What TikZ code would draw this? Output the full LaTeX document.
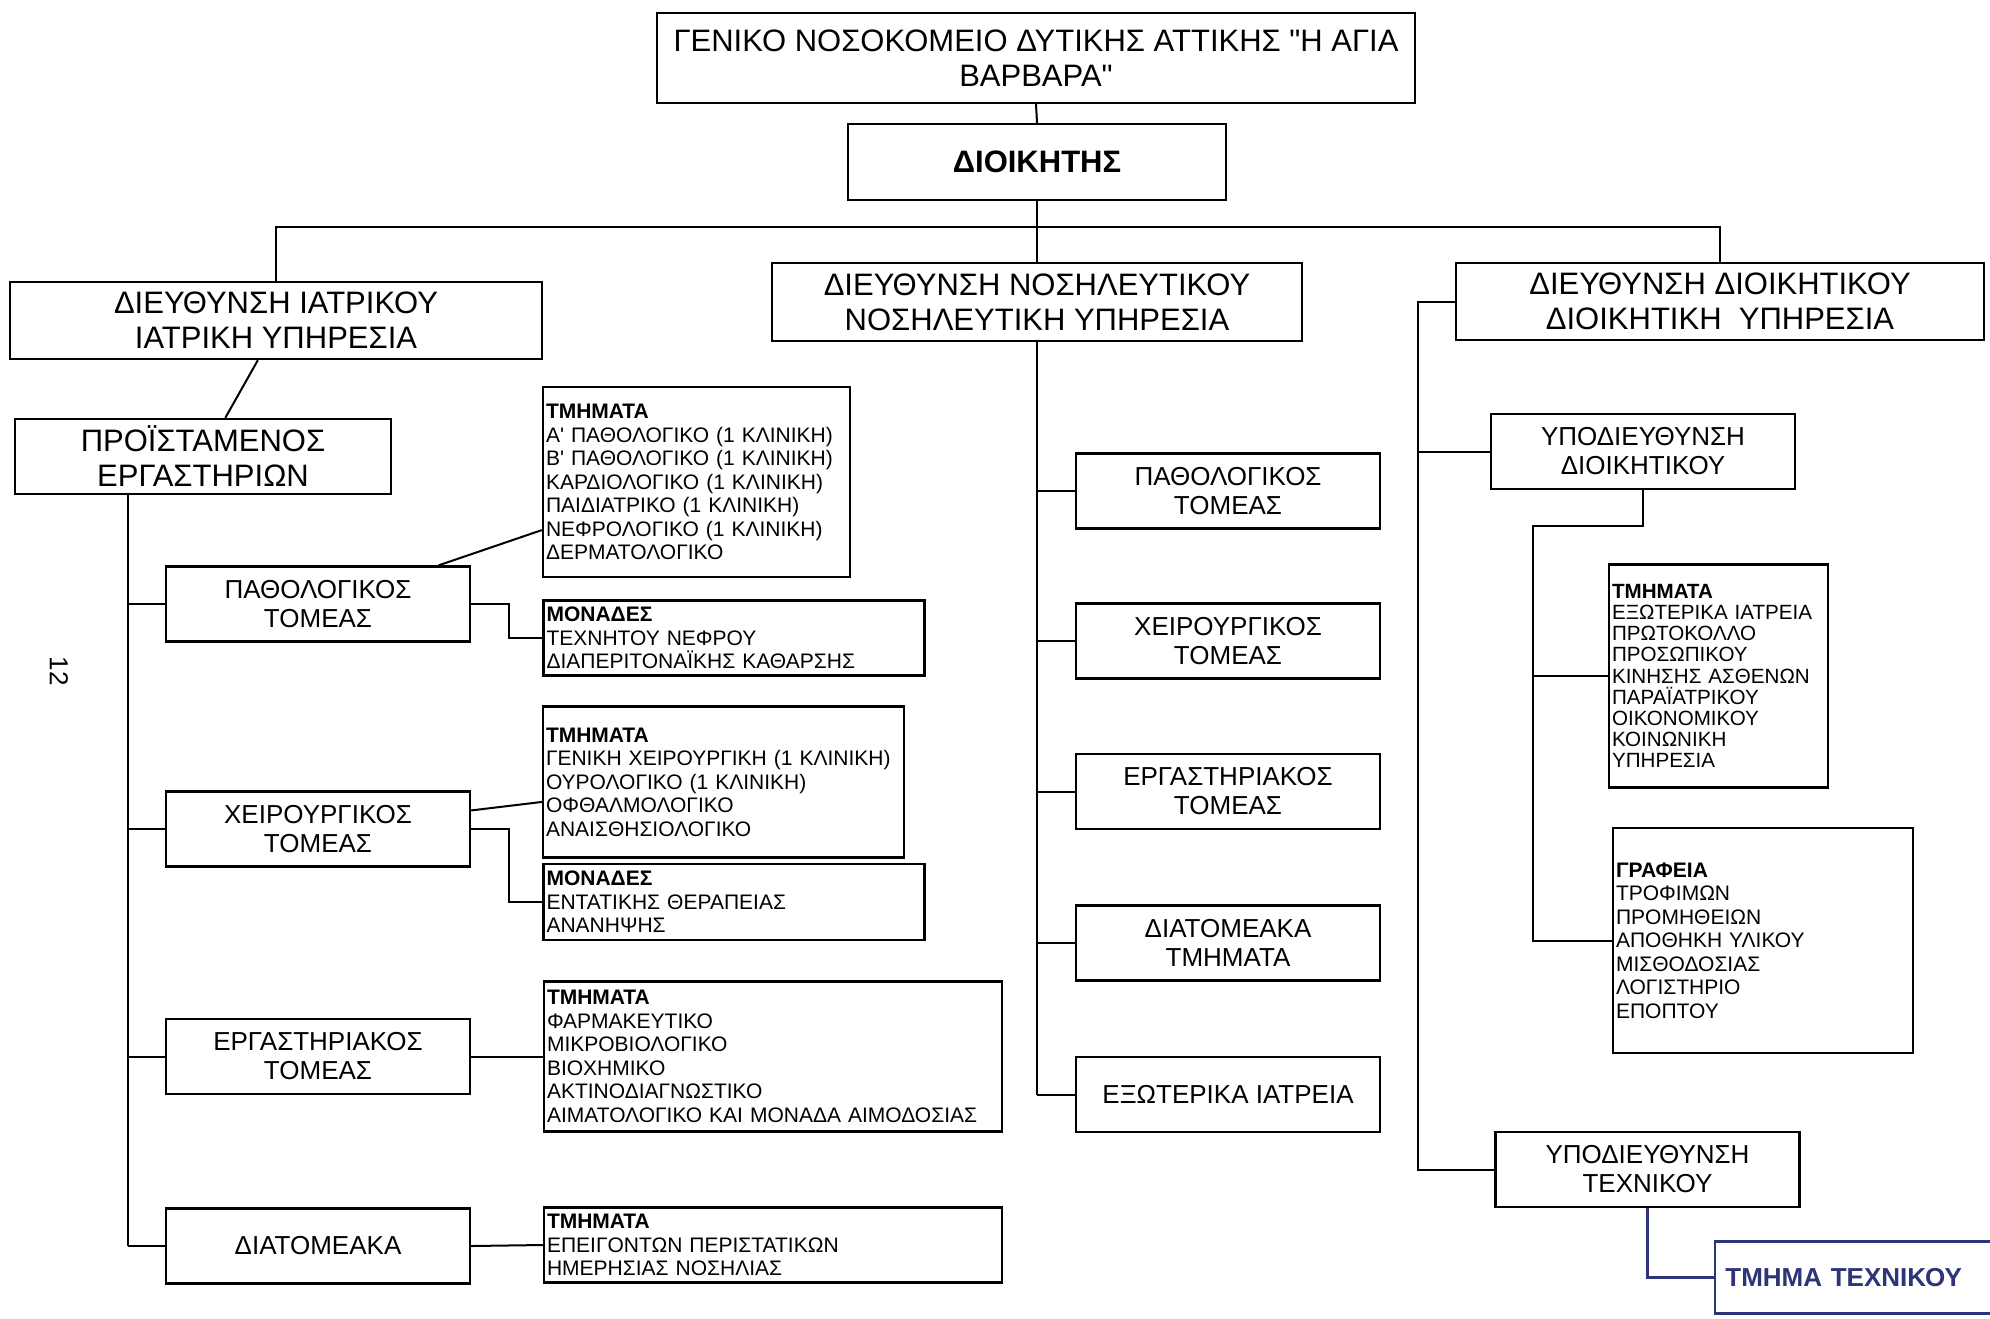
\documentclass[tikz,border=0pt]{standalone}
\usepackage{fontspec}
\setmainfont{Liberation Sans}[Ligatures=TeXOff]
\usepackage{tikz}
\usetikzlibrary{calc}
\usepackage{xcolor}
\definecolor{inkblue}{RGB}{46,52,120}

\tikzset{
  box/.style={draw, line width=1.2pt, inner sep=2pt, align=center},
  hdbox/.style={box, font=\fontsize{15.5}{17.5}\selectfont},
  secbox/.style={box, minimum width=152pt, minimum height=37.5pt, font=\fontsize{13}{14.5}\selectfont},
  listbox/.style={draw, line width=1.2pt, inner xsep=1.5pt, inner ysep=0pt, align=left, font=\fontsize{10.5}{11.75}\selectfont},
  link/.style={line width=1pt},
  handline/.style={draw=inkblue, line width=1.4pt}
}

\begin{document}
\begin{tikzpicture}[x=0.5pt,y=-0.5pt]
\useasboundingbox[fill=white] (0,0) rectangle (1990,1318);

% Top: hospital and director
\node[hdbox, minimum width=379pt, minimum height=45pt] (title) at (1036,58) {ΓΕΝΙΚΟ ΝΟΣΟΚΟΜΕΙΟ ΔΥΤΙΚΗΣ ΑΤΤΙΚΗΣ "Η ΑΓΙΑ\\ΒΑΡΒΑΡΑ"};
\node[hdbox, minimum width=189pt, minimum height=38pt] (dioik) at (1037,162) {\textbf{ΔΙΟΙΚΗΤΗΣ}};

% The three directorates
\node[hdbox, minimum width=266pt, minimum height=38.5pt] (iatr) at (276,320.5) {ΔΙΕΥΘΥΝΣΗ ΙΑΤΡΙΚΟΥ\\ΙΑΤΡΙΚΗ ΥΠΗΡΕΣΙΑ};
\node[hdbox, minimum width=265pt, minimum height=39pt] (nosil) at (1037,302) {ΔΙΕΥΘΥΝΣΗ ΝΟΣΗΛΕΥΤΙΚΟΥ\\ΝΟΣΗΛΕΥΤΙΚΗ ΥΠΗΡΕΣΙΑ};
\node[hdbox, minimum width=264pt, minimum height=38.5pt] (dioikd) at (1720,301.5) {ΔΙΕΥΘΥΝΣΗ ΔΙΟΙΚΗΤΙΚΟΥ\\ΔΙΟΙΚΗΤΙΚΗ\ \ ΥΠΗΡΕΣΙΑ};

\draw[link] (title.south) -- (dioik.north);
\draw[link] (dioik.south) -- (nosil.north);
\draw[link] (iatr.north) -- ++(0,-54) -| (dioikd.north);

% Medical directorate
\node[hdbox, minimum width=188pt, minimum height=37.5pt] (proist) at (203,456.5) {ΠΡΟΪΣΤΑΜΕΝΟΣ\\ΕΡΓΑΣΤΗΡΙΩΝ};
\draw[link] ($(iatr.south west)!0.466!(iatr.south east)$) -- ($(proist.north west)!0.559!(proist.north east)$);

\node[secbox] (pathA) at (318,604) {ΠΑΘΟΛΟΓΙΚΟΣ\\ΤΟΜΕΑΣ};
\node[secbox] (cheirA) at (318,829) {ΧΕΙΡΟΥΡΓΙΚΟΣ\\ΤΟΜΕΑΣ};
\node[secbox] (ergA) at (318,1056.5) {ΕΡΓΑΣΤΗΡΙΑΚΟΣ\\ΤΟΜΕΑΣ};
\node[secbox] (diatA) at (318,1246) {ΔΙΑΤΟΜΕΑΚΑ};

\coordinate (lspine) at ($(proist.south west)!0.303!(proist.south east)$);
\draw[link] (lspine) -- (lspine |- diatA.west);
\foreach \n in {pathA,cheirA,ergA,diatA}
  \draw[link] (lspine |- \n.west) -- (\n.west);

\node[listbox, text width=150.5pt, minimum height=95pt] (tm1) at (696.5,482) {\textbf{ΤΜΗΜΑΤΑ}\\Α' ΠΑΘΟΛΟΓΙΚΟ (1 ΚΛΙΝΙΚΗ)\\Β' ΠΑΘΟΛΟΓΙΚΟ (1 ΚΛΙΝΙΚΗ)\\ΚΑΡΔΙΟΛΟΓΙΚΟ (1 ΚΛΙΝΙΚΗ)\\ΠΑΙΔΙΑΤΡΙΚΟ (1 ΚΛΙΝΙΚΗ)\\ΝΕΦΡΟΛΟΓΙΚΟ (1 ΚΛΙΝΙΚΗ)\\ΔΕΡΜΑΤΟΛΟΓΙΚΟ};
\node[listbox, text width=187.5pt, minimum height=37.5pt] (mon1) at (734,638) {\textbf{ΜΟΝΑΔΕΣ}\\ΤΕΧΝΗΤΟΥ ΝΕΦΡΟΥ\\ΔΙΑΠΕΡΙΤΟΝΑΪΚΗΣ ΚΑΘΑΡΣΗΣ};
\node[listbox, text width=177.5pt, minimum height=75.5pt] (tm2) at (723.5,782) {\textbf{ΤΜΗΜΑΤΑ}\\ΓΕΝΙΚΗ ΧΕΙΡΟΥΡΓΙΚΗ (1 ΚΛΙΝΙΚΗ)\\ΟΥΡΟΛΟΓΙΚΟ (1 ΚΛΙΝΙΚΗ)\\ΟΦΘΑΛΜΟΛΟΓΙΚΟ\\ΑΝΑΙΣΘΗΣΙΟΛΟΓΙΚΟ};
\node[listbox, text width=187.5pt, minimum height=38pt] (mon2) at (734,902) {\textbf{ΜΟΝΑΔΕΣ}\\ΕΝΤΑΤΙΚΗΣ ΘΕΡΑΠΕΙΑΣ\\ΑΝΑΝΗΨΗΣ};
\node[listbox, text width=226pt, minimum height=75pt] (tm3) at (773,1056.5) {\textbf{ΤΜΗΜΑΤΑ}\\ΦΑΡΜΑΚΕΥΤΙΚΟ\\ΜΙΚΡΟΒΙΟΛΟΓΙΚΟ\\ΒΙΟΧΗΜΙΚΟ\\ΑΚΤΙΝΟΔΙΑΓΝΩΣΤΙΚΟ\\ΑΙΜΑΤΟΛΟΓΙΚΟ ΚΑΙ ΜΟΝΑΔΑ ΑΙΜΟΔΟΣΙΑΣ};
\node[listbox, text width=226pt, minimum height=37.5pt] (tm4) at (773,1245) {\textbf{ΤΜΗΜΑΤΑ}\\ΕΠΕΙΓΟΝΤΩΝ ΠΕΡΙΣΤΑΤΙΚΩΝ\\ΗΜΕΡΗΣΙΑΣ ΝΟΣΗΛΙΑΣ};

\draw[link] ($(pathA.north west)!0.894!(pathA.north east)$) -- ($(tm1.north west)!0.75!(tm1.south west)$);
\draw[link] (pathA.east) -- ++(38,0) |- (mon1.west);
\draw[link] ($(cheirA.north east)!0.26!(cheirA.south east)$) -- ($(tm2.north west)!0.63!(tm2.south west)$);
\draw[link] (cheirA.east) -- ++(38,0) |- (mon2.west);
\draw[link] (ergA.east) -- (tm3.west);
\draw[link] (diatA.east) -- (tm4.west);

% Nursing directorate
\node[secbox] (pathB) at (1228,491) {ΠΑΘΟΛΟΓΙΚΟΣ\\ΤΟΜΕΑΣ};
\node[secbox] (cheirB) at (1228,641) {ΧΕΙΡΟΥΡΓΙΚΟΣ\\ΤΟΜΕΑΣ};
\node[secbox] (ergB) at (1228,791.5) {ΕΡΓΑΣΤΗΡΙΑΚΟΣ\\ΤΟΜΕΑΣ};
\node[secbox] (diatB) at (1228,943) {ΔΙΑΤΟΜΕΑΚΑ\\ΤΜΗΜΑΤΑ};
\node[secbox] (exot) at (1228,1094.5) {ΕΞΩΤΕΡΙΚΑ ΙΑΤΡΕΙΑ};

\draw[link] (nosil.south) -- (nosil.south |- exot.west);
\foreach \n in {pathB,cheirB,ergB,diatB,exot}
  \draw[link] (nosil.south |- \n.west) -- (\n.west);

% Administrative directorate
\node[secbox] (ypodioik) at (1643,451.5) {ΥΠΟΔΙΕΥΘΥΝΣΗ\\ΔΙΟΙΚΗΤΙΚΟΥ};
\node[secbox] (ypotech) at (1647.5,1169.5) {ΥΠΟΔΙΕΥΘΥΝΣΗ\\ΤΕΧΝΙΚΟΥ};
\node[listbox, text width=106.5pt, minimum height=111.5pt, font=\fontsize{10.3}{10.6}\selectfont] (tmR) at (1718.5,676) {\textbf{ΤΜΗΜΑΤΑ}\\ΕΞΩΤΕΡΙΚΑ ΙΑΤΡΕΙΑ\\ΠΡΩΤΟΚΟΛΛΟ\\ΠΡΟΣΩΠΙΚΟΥ\\ΚΙΝΗΣΗΣ ΑΣΘΕΝΩΝ\\ΠΑΡΑΪΑΤΡΙΚΟΥ\\ΟΙΚΟΝΟΜΙΚΟΥ\\ΚΟΙΝΩΝΙΚΗ\\ΥΠΗΡΕΣΙΑ};
\node[listbox, text width=147pt, minimum height=112.5pt] (graf) at (1763,940.5) {\textbf{ΓΡΑΦΕΙΑ}\\ΤΡΟΦΙΜΩΝ\\ΠΡΟΜΗΘΕΙΩΝ\\ΑΠΟΘΗΚΗ ΥΛΙΚΟΥ\\ΜΙΣΘΟΔΟΣΙΑΣ\\ΛΟΓΙΣΤΗΡΙΟ\\ΕΠΟΠΤΟΥ};

\coordinate (rspine) at ($(dioikd.west)+(-37,0)$);
\draw[link] (dioikd.west) -- (rspine) |- (ypotech.west);
\draw[link] (rspine |- ypodioik.west) -- (ypodioik.west);

\coordinate (dspine) at ($(ypodioik.south)+(-110,36)$);
\draw[link] (ypodioik.south) |- (dspine) |- (graf.west);
\draw[link] (dspine |- tmR.west) -- (tmR.west);

% Hand-added technical department (blue ink)
\node[anchor=west, minimum width=137.5pt, minimum height=35.5pt, text width=127.5pt, inner xsep=5pt, align=left,
  text=inkblue, font=\fontsize{13}{13}\selectfont\bfseries] (tmtech) at (1715,1277.5) {ΤΜΗΜΑ ΤΕΧΝΙΚΟΥ};
\draw[handline] (tmtech.north east) -- (tmtech.north west) -- (tmtech.south west) -- (tmtech.south east);
\draw[handline] (ypotech.south) |- (tmtech.west);

% Page number of the scan
\node[rotate=-90, font=\fontsize{13}{13}\selectfont] (pagenum) at (59,671) {12};
\end{tikzpicture}
\end{document}
